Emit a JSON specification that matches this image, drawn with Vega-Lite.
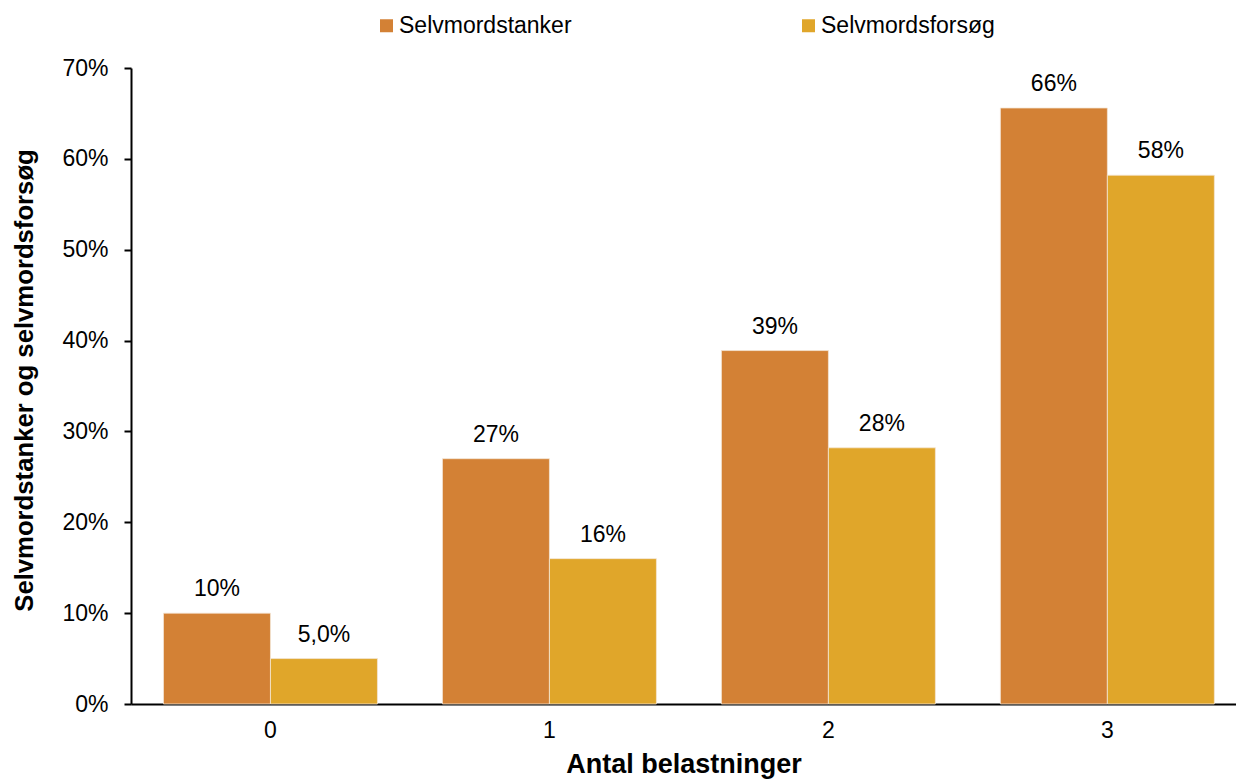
{
  "$schema": "https://vega.github.io/schema/vega-lite/v6.json",
  "width": 1105,
  "height": 636,
  "autosize": {"type": "none"},
  "padding": {"left": 131, "top": 68, "right": 0, "bottom": 76},
  "background": "white",
  "config": {
    "view": {"stroke": null},
    "font": "Liberation Sans",
    "axis": {"grid": false, "domainColor": "black", "domainWidth": 2, "tickColor": "black", "tickWidth": 2, "labelColor": "black", "titleColor": "black", "labelFont": "Liberation Sans", "titleFont": "Liberation Sans"}
  },
  "data": {
    "values": [
      {"antal": "0", "serie": "Selvmordstanker", "value": 0.100, "label": "10%"},
      {"antal": "0", "serie": "Selvmordsforsøg", "value": 0.050, "label": "5,0%"},
      {"antal": "1", "serie": "Selvmordstanker", "value": 0.270, "label": "27%"},
      {"antal": "1", "serie": "Selvmordsforsøg", "value": 0.160, "label": "16%"},
      {"antal": "2", "serie": "Selvmordstanker", "value": 0.389, "label": "39%"},
      {"antal": "2", "serie": "Selvmordsforsøg", "value": 0.282, "label": "28%"},
      {"antal": "3", "serie": "Selvmordstanker", "value": 0.656, "label": "66%"},
      {"antal": "3", "serie": "Selvmordsforsøg", "value": 0.582, "label": "58%"}
    ]
  },
  "encoding": {
    "x": {
      "field": "antal", "type": "nominal",
      "scale": {"paddingInner": 0.233, "paddingOuter": 0.097, "align": 0.6},
      "axis": {"title": "Antal belastninger", "labelAngle": 0, "ticks": false, "labelFontSize": 23, "labelPadding": 15, "titleFontSize": 27, "titleFontWeight": "bold", "titlePadding": 9}
    },
    "xOffset": {"field": "serie", "type": "nominal", "sort": ["Selvmordstanker", "Selvmordsforsøg"], "scale": {"paddingInner": 0, "paddingOuter": 0}},
    "y": {
      "field": "value", "type": "quantitative",
      "scale": {"domain": [0, 0.7], "nice": false},
      "axis": {"title": "Selvmordstanker og selvmordsforsøg", "format": ".0%", "values": [0, 0.1, 0.2, 0.3, 0.4, 0.5, 0.6, 0.7], "tickSize": 7, "labelFontSize": 23, "labelPadding": 16, "titleFontSize": 25.7, "titleFontWeight": "bold", "titlePadding": 24, "titleY": 312}
    }
  },
  "layer": [
    {
      "mark": {"type": "bar", "stroke": "#f4e6d6", "strokeWidth": 0.8},
      "encoding": {
        "color": {
          "field": "serie", "type": "nominal",
          "sort": ["Selvmordstanker", "Selvmordsforsøg"],
          "scale": {"domain": ["Selvmordstanker", "Selvmordsforsøg"], "range": ["#D38135", "#E0A62A"]},
          "legend": {"title": null, "orient": "none", "direction": "horizontal", "legendX": 244, "legendY": -54, "symbolType": "square", "symbolSize": 169, "symbolStrokeWidth": 0, "labelFontSize": 23, "labelColor": "black", "labelOffset": 1, "labelLimit": 500, "columnPadding": 225, "labelFont": "Liberation Sans"}
        }
      }
    },
    {
      "mark": {"type": "text", "fontSize": 23, "baseline": "middle", "dy": -24, "color": "black"},
      "encoding": {"text": {"field": "label"}}
    }
  ]
}
